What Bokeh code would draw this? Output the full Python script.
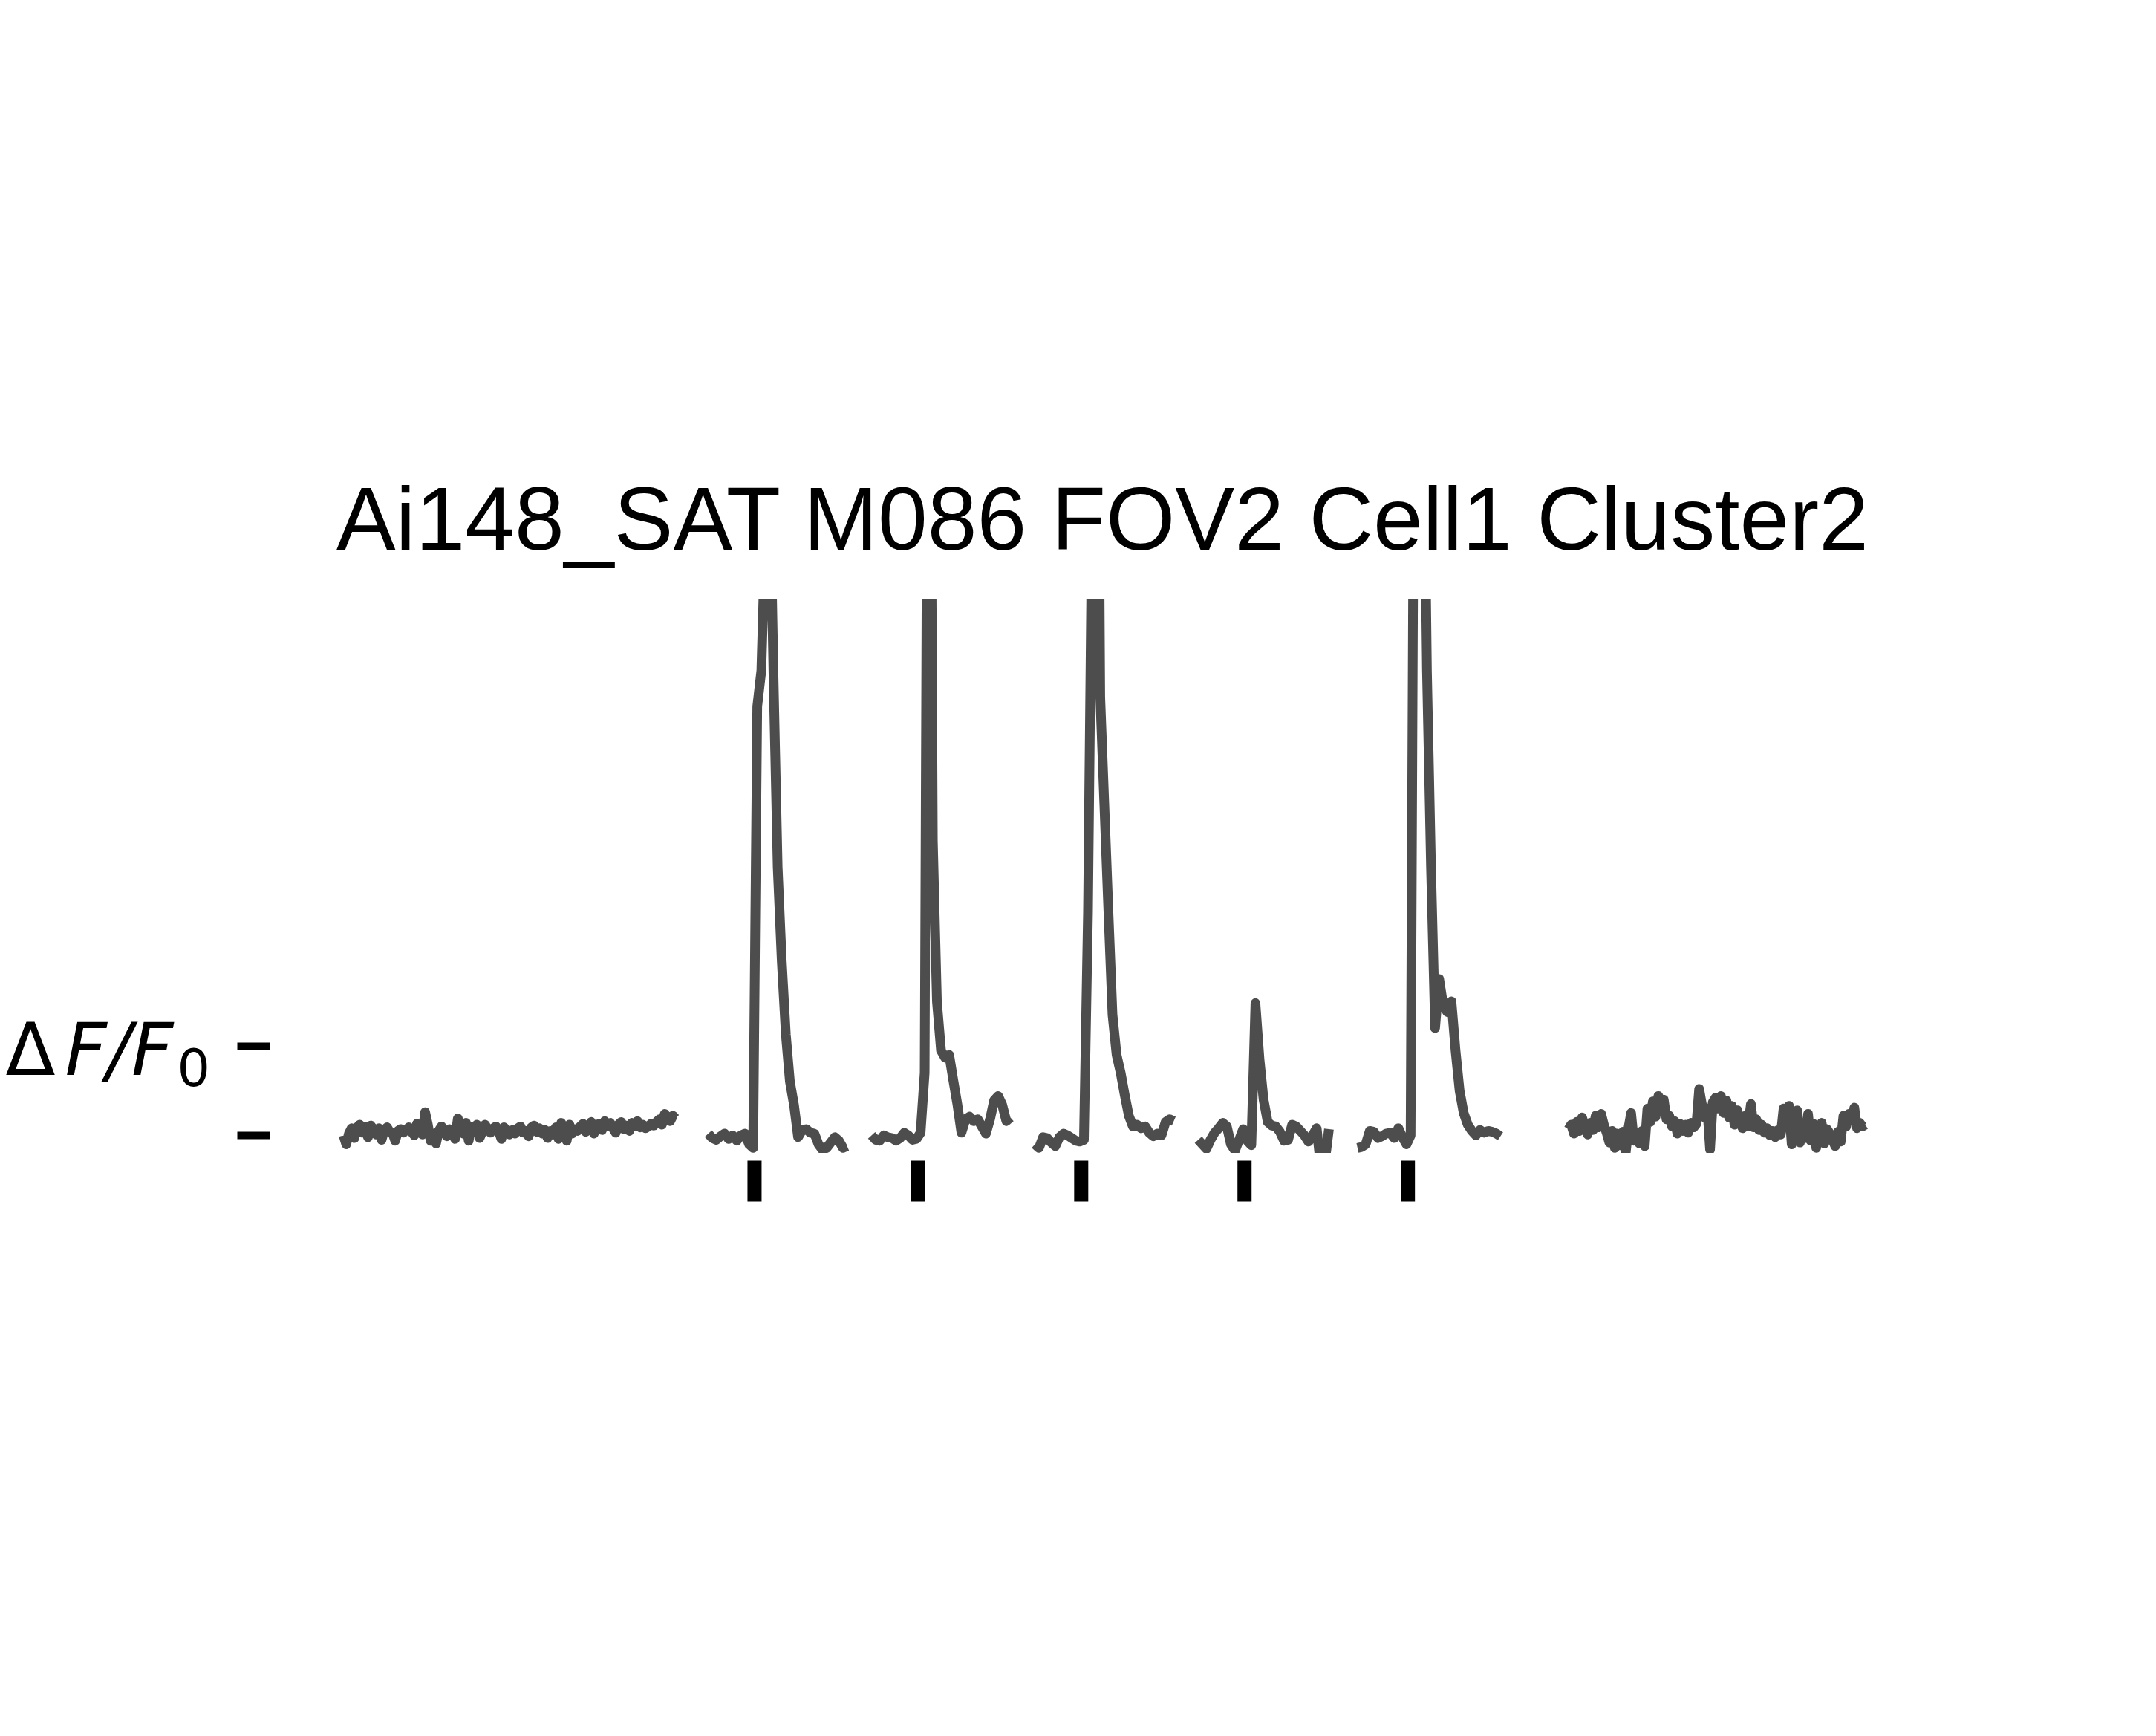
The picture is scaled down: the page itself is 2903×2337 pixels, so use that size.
import numpy as np
from bokeh.plotting import figure
from bokeh.models import Range1d, FixedTicker, LinearAxis
from bokeh.core.properties import value
from bokeh.layouts import column, row
from bokeh.embed import file_html
from bokeh.resources import INLINE

TITLE = "Ai148_SAT M086 FOV2 Cell1 Cluster2"
SCALE_TICKS = [0, 1]

# stimulus onsets (s)
stim_times = [8.9, 11.9, 14.9, 17.9, 20.9]

# baseline before the stimuli (dF/F0), sampled every 0.05 s from 1.35 s
pre_start, pre_dt = 1.35, 0.05
pre_values = [
    0.00, -0.10, 0.02, 0.08, -0.03, 0.09, 0.12, 0.03, 0.10, -0.02, 0.11, 0.07, 0.01, 0.08, -0.05, 0.06,
    0.09, 0.04, 0.03, -0.06, 0.05, 0.07, 0.03, 0.06, 0.09, 0.04, 0.00, 0.13, 0.08, 0.01, 0.26, 0.12,
    -0.06, 0.02, -0.09, 0.05, 0.10, 0.03, -0.01, 0.07, 0.04, -0.04, 0.19, 0.08, 0.02, 0.14, -0.06, 0.10,
    0.06, 0.12, -0.03, 0.04, 0.12, 0.07, 0.03, 0.08, 0.10, 0.05, -0.04, 0.09, 0.06, 0.01,
    0.06, 0.02, 0.08, 0.10, 0.03, 0.05, -0.01, 0.09, 0.11, 0.04, 0.08, 0.02, 0.06, -0.03, 0.05, 0.01,
    0.09, -0.04, 0.14, 0.03, -0.06, 0.12, 0.02, 0.07, 0.05, 0.10, 0.13, 0.04, 0.09, 0.15, 0.02, 0.11,
    0.13, 0.06, 0.16, 0.10, 0.14, 0.08, 0.03, 0.12, 0.15, 0.07, 0.11, 0.05, 0.14, 0.10, 0.16, 0.09,
    0.12, 0.08, 0.10, 0.13, 0.11, 0.15, 0.18, 0.12, 0.24, 0.20, 0.16, 0.22, 0.19,
]

# trials around each stimulus, sampled every 0.075 s
trial_dt = 0.075
trial_starts = [8.05, 11.05, 14.05, 17.05, 19.975]
trial1 = [0.02, -0.03, -0.05, -0.01, 0.02, -0.04, 0.00, -0.06, 0.00, 0.02, -0.10, -0.14,
          4.8, 5.2, 6.8, 7.5, 5.1, 3.0, 1.95, 1.13, 0.6, 0.34, -0.02, 0.06, 0.07, 0.03,
          0.02, -0.10, -0.16, -0.14, -0.08, -0.02, -0.06, -0.14, -0.12]
trial2 = [0.00, -0.05, -0.06, 0.00, -0.02, -0.03, -0.06, -0.03, 0.03, 0.00, -0.05, -0.04,
          0.03, 0.7, 12.4, 3.3, 1.5, 0.95, 0.87, 0.9, 0.62, 0.35, 0.03, 0.18, 0.21, 0.16,
          0.18, 0.10, 0.02, 0.18, 0.39, 0.44, 0.34, 0.16, 0.20]
trial3 = [-0.10, -0.14, -0.02, -0.03, -0.08, -0.12, -0.02, 0.02, 0.00, -0.03, -0.06, -0.07,
          -0.05, 2.5, 7.0, 12.0, 4.9, 3.7, 2.5, 1.35, 0.9, 0.7, 0.45, 0.22, 0.10, 0.12,
          0.08, 0.10, 0.03, -0.01, 0.02, 0.00, 0.15, 0.18, 0.16]
trial4 = [-0.05, -0.10, -0.15, -0.05, 0.03, 0.08, 0.14, 0.10, -0.10, -0.17, -0.05, 0.07,
          -0.06, -0.11, 1.48, 0.85, 0.40, 0.15, 0.11, 0.10, 0.04, -0.06, -0.05, 0.12, 0.10,
          0.05, 0.00, -0.07, 0.00, 0.08, -0.35, -0.30, 0.07]
trial5 = [-0.14, -0.13, -0.10, 0.05, 0.04, -0.03, -0.01, 0.02, 0.03, -0.03, 0.08, -0.02,
          -0.10, 0.00, 10.0, 15.0, 9.0, 5.2, 3.0, 1.2, 1.75, 1.45, 1.38, 1.5, 0.95, 0.5,
          0.25, 0.12, 0.05, 0.00, 0.06, 0.03, 0.05, 0.04, 0.02, -0.01]
trials = [trial1, trial2, trial3, trial4, trial5]

# baseline after the stimuli, sampled every 0.05 s from 23.85 s
post_start, post_dt = 23.85, 0.05
post_values = [
    0.07, 0.12, 0.02, 0.15, 0.05, 0.20,
    0.10, 0.01, 0.14, 0.06, 0.22, 0.09, 0.24,
    0.12, 0.03, -0.08, 0.05, -0.14,
    0.02, -0.11, 0.04, -0.20, 0.08, 0.25, -0.06,
    0.03, -0.09, 0.05, -0.12, 0.30,
    0.15, 0.38, 0.21, 0.44, 0.27, 0.40, 0.18,
    0.22, 0.10, 0.16, 0.02, 0.13, 0.05, 0.12, 0.03,
    0.14, 0.09, 0.13, 0.52, 0.35, 0.20,
    0.30, -0.16, 0.37, 0.42, 0.30, 0.44,
    0.25, 0.39, 0.20, 0.33, 0.12, 0.28, 0.15,
    0.08, 0.22, 0.10, 0.35, 0.09, 0.18, 0.06,
    0.12, 0.03, 0.08, 0.00, 0.05, -0.02, 0.06,
    0.01, 0.30, 0.18, 0.33, -0.10, 0.25, 0.28,
    -0.08, 0.10, -0.03, 0.24, -0.06, 0.13, -0.14,
    0.05, 0.14, -0.09, 0.07, 0.02, -0.05, -0.12,
    0.04, -0.07, 0.22, 0.10, 0.24, 0.17, 0.31,
    0.08, 0.14, 0.10, 0.12,
]

TRACE_COLOR = "#4d4d4d"
TOTAL_W, TOTAL_H = 2895, 2337
LABEL_W = 303            # width of the scale-label panel on the left
FRAME_LEFT = 363         # page x of the data frame's left edge
RIGHT_BORDER = 288
FRAME_TOP, FRAME_BOTTOM = 806, 1552
X_END = 30.61
Y0, Y1 = -0.2, 6.0
PX_PER_UNIT = (FRAME_BOTTOM - FRAME_TOP) / (Y1 - Y0)

y_range = Range1d(Y0, Y1)
x_range = Range1d(0, X_END)

def clean(fig):
    fig.outline_line_color = None
    fig.grid.visible = False
    fig.background_fill_color = "white"
    fig.border_fill_color = "white"

# ---- main trace figure ----
p = figure(width=TOTAL_W - LABEL_W, height=FRAME_BOTTOM, x_range=x_range, y_range=y_range,
           output_backend="svg", toolbar_location=None,
           x_axis_location=None, y_axis_location=None,
           min_border_left=FRAME_LEFT - LABEL_W, min_border_right=RIGHT_BORDER,
           min_border_top=FRAME_TOP, min_border_bottom=0)
clean(p)

p.title.text = TITLE
p.title.text_font = "Liberation Sans"
p.title.text_font_size = "120px"
p.title.text_font_style = "normal"
p.title.text_color = "black"
p.title.align = "center"
p.title.standoff = 84
p.title.offset = 10

ax = LinearAxis(ticker=FixedTicker(ticks=SCALE_TICKS))
ax.axis_line_color = None
ax.major_tick_in = 0
ax.major_tick_out = 44
ax.major_tick_line_width = 10
ax.major_tick_line_color = "black"
ax.major_tick_line_cap = "butt"
ax.minor_tick_line_color = None
ax.major_label_text_font_size = "0px"
ax.major_label_text_alpha = 0
ax.major_label_standoff = 0
p.add_layout(ax, "left")

segments = [(pre_start, pre_dt, pre_values)]
segments += [(s, trial_dt, v) for s, v in zip(trial_starts, trials)]
segments.append((post_start, post_dt, post_values))
for start, dt, vals in segments:
    t = start + dt * np.arange(len(vals))
    p.line(t, vals, line_color=TRACE_COLOR, line_width=13, line_join="round", line_cap="butt")

# ---- scale-bar label panel (1ΔF/F0 next to the upper tick) ----
lab = figure(width=LABEL_W, height=FRAME_BOTTOM, x_range=Range1d(0, LABEL_W), y_range=y_range,
             output_backend="svg", toolbar_location=None,
             x_axis_location=None, y_axis_location=None,
             min_border_left=0, min_border_right=0,
             min_border_top=FRAME_TOP, min_border_bottom=0)
clean(lab)
lab_y = 0.96
lab.text(x=[74], y=[lab_y], text=["1Δ"], text_font=value("DejaVu Sans"),
         text_font_size=value("98px"), text_align="right", text_baseline="alphabetic",
         text_color="black")
lab.text(x=[87], y=[lab_y], text=["F/F"], text_font=value("DejaVu Sans"),
         text_font_size=value("98px"), text_font_style=value("italic"), text_align="left",
         text_baseline="alphabetic", text_color="black")
lab.text(x=[238], y=[0.765], text=["0"], text_font=value("DejaVu Sans"),
         text_font_size=value("70px"), text_align="left", text_baseline="alphabetic",
         text_color="black")

# ---- stimulus marks below the traces ----
BAR_TOP, BAR_BOTTOM = -0.283, -0.740
p2_h = TOTAL_H - FRAME_BOTTOM
p2 = figure(width=TOTAL_W, height=p2_h, x_range=x_range,
            y_range=Range1d(Y0 - p2_h / PX_PER_UNIT, Y0),
            output_backend="svg", toolbar_location=None,
            x_axis_location=None, y_axis_location=None,
            min_border_left=FRAME_LEFT, min_border_right=RIGHT_BORDER,
            min_border_top=0, min_border_bottom=0)
clean(p2)
p2.rect(x=stim_times, y=[(BAR_TOP + BAR_BOTTOM) / 2] * len(stim_times), width=19,
        width_units="screen", height=BAR_TOP - BAR_BOTTOM, fill_color="black", line_color=None)

layout = column(row(lab, p, spacing=0), p2, spacing=0)
open("out.html", "w").write(file_html(layout, INLINE))
